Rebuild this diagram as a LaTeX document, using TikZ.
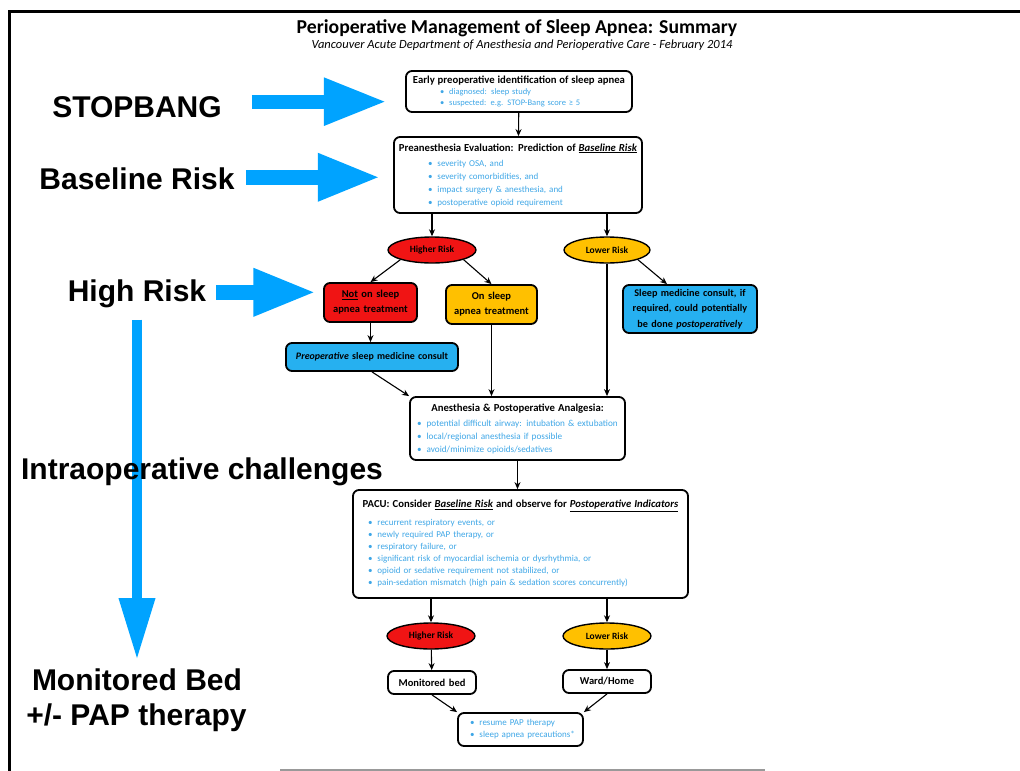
\documentclass[tikz,border=0pt]{standalone}
\usepackage{fontspec}
\setmainfont{Carlito}
\setsansfont{Liberation Sans}
\usepackage{xcolor}
\usetikzlibrary{arrows.meta,shapes.geometric}
\definecolor{arrblue}{RGB}{0,163,255}
\definecolor{boxblue}{RGB}{38,176,240}
\definecolor{bulblue}{RGB}{62,166,230}
\definecolor{riskred}{RGB}{240,20,20}
\definecolor{riskyel}{RGB}{255,192,0}
\newcommand{\bul}[1]{\textcolor{bulblue}{\textbullet\hspace{5pt}#1}}
\newcommand{\ttl}[1]{\makebox[\linewidth]{\fontsize{10.7}{12}\selectfont\bfseries #1}}
\tikzset{x=1pt,y=-1pt,
  box/.style={draw,line width=1.8pt,rounded corners=6pt,inner xsep=4pt,inner ysep=2pt,align=left},
  tbox/.style={box,align=center,font=\fontsize{10.5}{15}\selectfont\bfseries},
  risk/.style={ellipse,draw,line width=1.4pt,inner sep=0pt,minimum width=88pt,minimum height=26pt,font=\fontsize{9.5}{10}\selectfont\bfseries},
  flow/.style={-{Stealth[length=7pt,width=6pt]},line width=1.1pt},
  big/.style={arrblue,-{Triangle[length=63pt,width=44pt]}},
  side/.style={anchor=base,inner sep=0pt,font=\fontsize{30}{35}\selectfont\sffamily\bfseries}}

\begin{document}
\begin{tikzpicture}
\useasboundingbox (0,0) rectangle (1020,771);
\draw[line width=3pt] (9.5,771) -- (9.5,11.5) -- (1020,11.5);
\draw[line width=1.5pt,black!40] (280,770) -- (765,770);

% heading
\node[font=\fontsize{19.7}{21}\selectfont\bfseries,anchor=base] (hd) at (517,33) {Perioperative Management of Sleep Apnea: Summary};
\node[font=\fontsize{12.5}{14}\selectfont\itshape,anchor=base] (sub) at (522,48) {Vancouver Acute Department of Anesthesia and Perioperative Care - February 2014};

% flow chart
\node[box,text width=218pt,minimum height=41pt,font=\fontsize{8.5}{11}\selectfont] (1) at (519,91.5)
  {\ttl{Early preoperative identification of sleep apnea}\\
   \hspace*{30pt}\bul{diagnosed: sleep study}\\
   \hspace*{30pt}\bul{suspected: e.g. STOP-Bang score ≥ 5}};
\node[box,text width=240pt,minimum height=76pt,font=\fontsize{9}{13}\selectfont] (2) at (518,175)
  {\ttl{Preanesthesia Evaluation: Prediction of \underline{\textit{Baseline Risk}}}\\[2pt]
   \hspace*{30pt}\bul{severity OSA, and}\\
   \hspace*{30pt}\bul{severity comorbidities, and}\\
   \hspace*{30pt}\bul{impact surgery \& anesthesia, and}\\
   \hspace*{30pt}\bul{postoperative opioid requirement}};
\node[risk,fill=riskred] (3) at (432,250) {Higher Risk};
\node[risk,fill=riskyel,minimum width=86pt] (4) at (607,250) {Lower Risk};
\node[tbox,fill=riskred,text width=85pt,minimum height=39pt] (5) at (370.5,302.5) {\underline{Not} on sleep\\apnea treatment};
\node[tbox,fill=riskyel,text width=83pt,minimum height=39pt] (6) at (491.5,304.5) {On sleep\\apnea treatment};
\node[tbox,fill=boxblue,text width=126pt,minimum height=48pt,font=\fontsize{10.2}{15.5}\selectfont\bfseries] (7) at (690,309)
  {Sleep medicine consult, if\\required, could potentially\\be done \textit{postoperatively}};
\node[tbox,fill=boxblue,text width=164pt,minimum height=28pt,font=\fontsize{9.9}{12}\selectfont\bfseries] (8) at (372,357) {\textit{Preoperative} sleep medicine consult};
\node[box,text width=207pt,minimum height=63pt,font=\fontsize{9.2}{13}\selectfont] (9) at (517.5,428.5)
  {\ttl{Anesthesia \& Postoperative Analgesia:}\\[2pt]
   \hspace*{3pt}\bul{potential difficult airway: intubation \& extubation}\\
   \hspace*{3pt}\bul{local/regional anesthesia if possible}\\
   \hspace*{3pt}\bul{avoid/minimize opioids/sedatives}};
\node[box,text width=327pt,minimum height=108pt,font=\fontsize{9}{12}\selectfont] (10) at (520.5,544)
  {\ttl{PACU: Consider \underline{\textit{Baseline Risk}} and observe for \underline{\textit{Postoperative Indicators}}}\\[6pt]
   \hspace*{11pt}\bul{recurrent respiratory events, or}\\
   \hspace*{11pt}\bul{newly required PAP therapy, or}\\
   \hspace*{11pt}\bul{respiratory failure, or}\\
   \hspace*{11pt}\bul{significant risk of myocardial ischemia or dysrhythmia, or}\\
   \hspace*{11pt}\bul{opioid or sedative requirement not stabilized, or}\\
   \hspace*{11pt}\bul{pain-sedation mismatch (high pain \& sedation scores concurrently)}};
\node[risk,fill=riskred] (11) at (431,636) {Higher Risk};
\node[risk,fill=riskyel] (12) at (607,636) {Lower Risk};
\node[tbox,text width=80pt,minimum height=23pt] (13) at (432,682.5) {Monitored bed};
\node[tbox,text width=80pt,minimum height=23pt] (14) at (607,681.5) {Ward/Home};
\node[box,text width=117pt,minimum height=33pt,font=\fontsize{9}{12}\selectfont] (15) at (520.5,729.5)
  {\hspace*{8pt}\bul{resume PAP therapy}\\
   \hspace*{8pt}\bul{sleep apnea precautions*}};

\path[flow]
  (1) edge (2)
  (3.north |- 2.south) edge (3)
  (4.north |- 2.south) edge (4)
  (3.south west) edge (5.north)
  (3.south east) edge (6.north)
  (4.south east) edge ([xshift=-23pt]7.north)
  (4.south) edge (4.south |- 9.north)
  (5.south) edge (5.south |- 8.north)
  (6.south) edge (6.south |- 9.north)
  (8.south) edge (9.north west)
  (9.south) edge (9.south |- 10.north)
  (11.north |- 10.south) edge (11)
  (12.north |- 10.south) edge (12)
  (11) edge (13)
  (12) edge (14)
  (13.south) edge (15.north west)
  (14.south) edge (15.north east);

% side notes
\node[side] (stop) at (137,117) {STOPBANG};
\node[side] (base) at (137,189) {Baseline Risk};
\node[side] (high) at (137,301) {High Risk};
\draw[big,line width=14pt] ([xshift=30pt,yshift=5pt]stop.east) -- ++(135,0);
\draw[big,line width=15pt] ([xshift=11pt,yshift=1pt]base.east) -- ++(135,0);
\draw[big,line width=15pt] ([xshift=10pt,yshift=1pt]high.east) -- ++(100,0);
\draw[big,line width=10pt,-{Triangle[length=62pt,width=34pt]}] ([yshift=-12pt]high.south) -- (137,660);
\node[side] (intra) at (202,479) {Intraoperative challenges};
\node[side] (mon) at (137,690) {Monitored Bed};
\node[side] (pap) at (136.5,725) {+/- PAP therapy};
\end{tikzpicture}
\end{document}
